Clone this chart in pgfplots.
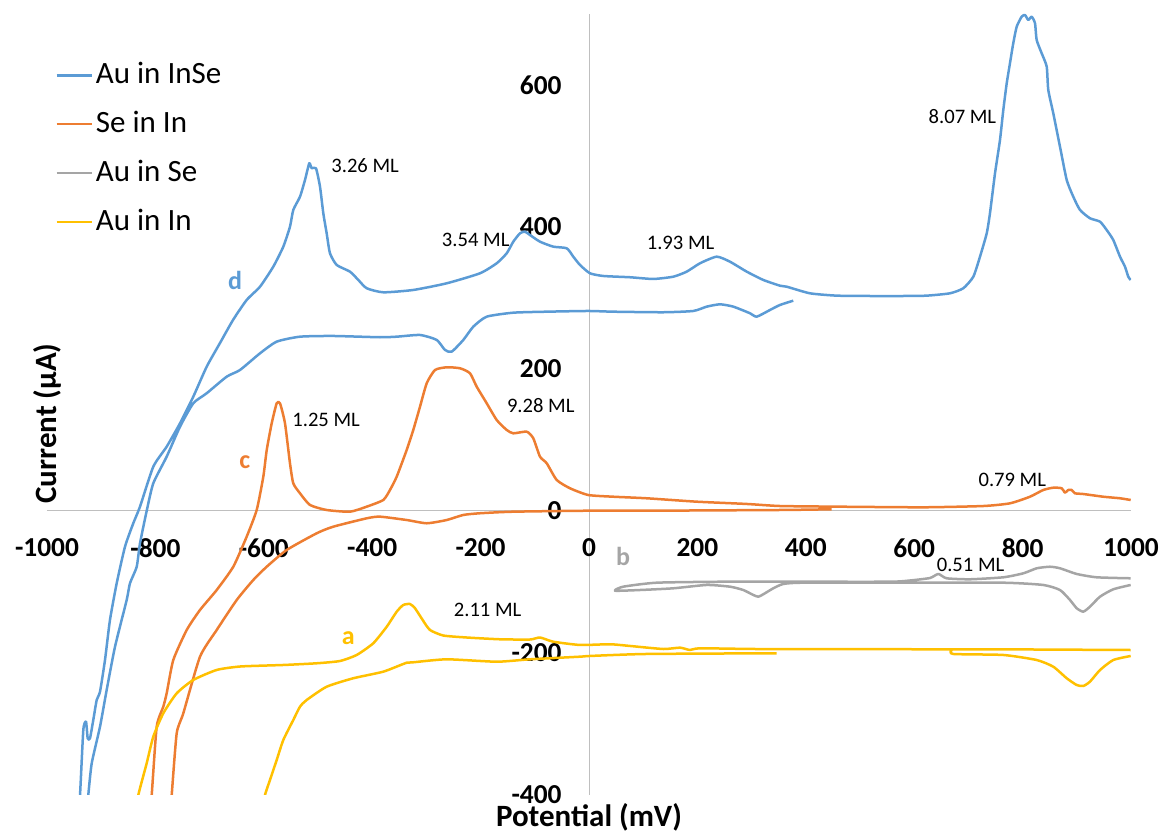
\documentclass[border=0pt]{standalone}
\usepackage{pgfplots}
\pgfplotsset{compat=1.18}
\usepackage{fontspec}
\setmainfont{Carlito}

\definecolor{cBlue}{HTML}{5B9BD5}
\definecolor{cOrange}{HTML}{ED7D31}
\definecolor{cGray}{HTML}{A5A5A5}
\definecolor{cGold}{HTML}{FFC000}
\definecolor{axGray}{HTML}{BFBFBF}

\newcommand{\mlfont}{\fontsize{10.3}{12}\selectfont}
\newcommand{\tagfont}{\fontsize{13}{15}\selectfont\bfseries}

\begin{document}
\begin{tikzpicture}
\begin{axis}[
  scale only axis,
  width=542pt, height=390.5pt,
  xmin=-1000, xmax=1000, ymin=-400, ymax=700,
  axis lines=middle,
  axis line style={draw=axGray, line width=0.5pt, -},
  hide obscured x ticks=false, hide obscured y ticks=false,
  major tick length=0pt,
  xtick={-1000,-800,-600,-400,-200,0,200,400,600,800,1000},
  xticklabels={-1000,-800,-600,-400,-200,0,200,400,600,800,1000},
  ytick={-400,-200,0,200,400,600},
  yticklabels={-400,-200,0,200,400,600},
  xticklabel style={font=\fontsize{13.7}{16}\selectfont\bfseries, anchor=north, inner sep=0pt, yshift=-13.5pt},
  yticklabel style={font=\fontsize{13.7}{16}\selectfont\bfseries, anchor=east, inner sep=0pt, xshift=-13.5pt},
  xlabel={Potential (mV)},
  ylabel={Current (µA)},
  x label style={at={(axis description cs:0.5,0)}, anchor=center, yshift=-11pt, font=\fontsize{15.5}{18}\selectfont\bfseries, inner sep=0pt},
  y label style={at={(axis description cs:0,0.5)}, anchor=center, rotate=90, xshift=-9.5pt, font=\fontsize{15.5}{18}\selectfont\bfseries, inner sep=0pt},
  unbounded coords=jump,
  every axis plot/.append style={line width=1.25pt, line join=round, smooth, tension=0.35},
  legend cell align=left,
  legend image code/.code={\draw[#1, sharp plot] (0pt,0pt) -- (17.5pt,0pt);},
  legend style={at={(axis description cs:0.0074,0.94)}, anchor=north west,
    draw=none, fill=none, inner sep=0pt, row sep=10.5pt, column sep=1.5pt,
    font=\fontsize{15.5}{18}\selectfont,
    nodes={inner sep=0pt, text height=11pt, text depth=3pt}},
]

% d: Au in InSe (cathodic sweep, then anodic sweep)
\addplot[cBlue] table {
x y
376.9 296.2
352.4 290.2
333.9 283.1
309.4 273.7
297.0 278.5
266.2 287.8
241.7 291.1
217.2 287.8
192.4 281.7
137.1 279.9
44.8 280.7
-1.3 281.7
-78.0 280.7
-139.7 279.3
-188.7 273.7
-213.5 259.6
-231.9 240.9
-253.3 224.4
-265.7 226.8
-281.0 240.9
-311.8 247.9
-354.8 245.5
-385.6 244.7
-472.3 246.5
-533.2 245.5
-576.2 238.5
-607.0 222.1
-643.9 198.6
-668.4 189.2
-705.4 165.8
-730.1 151.7
-754.6 118.7
-779.2 76.5
-803.9 39.0
-816.1 0
-828.4 -45.5
-834.5 -78.5
-846.9 -101.8
-853.0 -125.4
-874.5 -191.1
-889.9 -252.1
-902.2 -303.8
-917.5 -355.4
-923.8 -400
-926.2 -421
nan nan
-942.8 -414
-939.1 -400
-933.0 -308.5
-928.0 -296.8
-924.9 -320.2
-920.7 -320.2
-914.6 -294.4
-908.3 -266.2
-902.2 -254.5
-893.0 -209.9
-883.8 -153.5
-871.4 -101.8
-856.1 -50.3
-840.8 -17.3
-828.4 6.1
-803.9 62.4
-779.2 90.6
-754.6 123.5
-730.1 161.0
-705.4 203.2
-680.8 236.6
-656.8 269.0
-631.6 297.2
-607.0 315.9
-582.5 344.1
-564.0 372.3
-551.7 400.4
-545.6 424.0
-533.2 442.7
-524.0 466.2
-516.1 489.7
-511.7 482.7
-503.7 482.7
-496.3 456.8
-490.2 419.3
-484.0 391.1
-477.9 363.0
-465.5 346.5
-441.0 337.1
-425.6 325.4
-410.1 313.7
-379.5 308.0
-324.2 311.3
-262.5 320.7
-201.1 334.8
-170.3 348.9
-151.8 363.0
-139.7 379.3
-127.3 391.1
-118.1 393.4
-108.9 388.7
-90.4 379.3
-65.9 372.3
-41.1 370.0
-29.0 358.2
-16.6 346.5
1.8 334.8
26.4 331.0
75.6 329.2
118.6 326.8
155.5 330.0
180.3 337.1
204.8 348.9
235.6 358.2
260.1 351.1
291.0 337.1
321.6 325.4
352.4 317.3
364.8 315.9
407.7 306.6
457.0 303.3
518.4 302.8
579.9 302.8
623.1 303.3
666.0 306.6
690.6 313.7
709.1 330.0
721.4 358.2
733.8 391.1
739.8 419.3
749.1 475.6
758.3 522.6
764.4 564.8
770.7 602.4
776.7 630.6
782.8 658.8
789.1 682.1
798.3 696.2
804.4 698.6
810.5 691.6
816.8 696.2
822.9 686.9
826.0 663.4
835.2 644.7
844.5 625.8
847.4 593.0
856.6 560.2
869.0 513.1
881.4 466.2
893.5 442.7
905.9 424.0
924.3 412.3
942.8 407.5
955.1 395.8
967.3 381.7
979.7 358.2
988.9 344.1
995.0 330.0
999.4 325.4
};
\addlegendentry{Au in InSe}

% c: Se in In
\addplot[cOrange] table {
x y
-810.0 -421.1
-806.8 -400
-797.6 -303.8
-785.4 -275.6
-779.2 -256.8
-767.0 -209.9
-742.2 -167.6
-717.7 -139.4
-686.9 -111.3
-656.3 -78.5
-631.6 -36.2
-613.1 1.4
-600.9 48.3
-594.6 85.9
-585.4 123.5
-576.2 151.7
-570.1 151.7
-560.9 123.5
-551.7 67.2
-545.6 39.0
-533.2 24.9
-514.8 8.5
-484.0 1.4
-441.0 -1.0
-410.1 6.1
-379.5 15.5
-367.2 29.6
-354.8 48.3
-336.4 85.9
-324.2 114.1
-311.8 146.9
-299.4 179.9
-284.1 198.6
-262.5 202.4
-238.0 201.0
-219.6 194.0
-207.2 175.1
-188.7 151.7
-170.3 128.2
-151.8 114.1
-139.7 109.4
-114.9 111.7
-102.8 102.4
-90.4 76.5
-78.0 67.2
-59.6 43.7
-35.1 32.0
-1.3 22.5
44.8 20.1
106.5 17.9
198.7 13.1
291.0 9.9
352.4 7.0
457.0 6.1
616.8 5.2
727.5 7.0
776.7 10.8
813.6 20.1
838.2 29.6
856.6 32.8
872.1 32.0
878.2 25.8
884.3 29.6
890.6 29.6
896.7 24.9
912.0 23.9
948.9 20.1
979.7 17.9
999.4 15.5
nan nan
447.8 2.4
352.4 1.4
106.5 0.4
-1.3 0.4
-139.7 -1.0
-201.1 -3.2
-231.9 -5.6
-262.5 -12.7
-299.4 -17.3
-336.4 -12.7
-385.6 -8.0
-410.1 -10.3
-471.8 -22.1
-502.4 -31.4
-557.7 -54.9
-594.6 -78.5
-619.4 -97.2
-650.0 -125.4
-686.9 -167.6
-717.7 -205.2
-748.5 -284.9
-760.7 -313.1
-769.9 -400
-772.1 -421
};
\addlegendentry{Se in In}

% b: Au in Se
\addplot[cGray] table {
x y
999.4 -94.8
936.7 -93.4
899.8 -88.7
869.0 -80.7
850.5 -78.5
826.0 -80.7
801.3 -87.8
764.4 -93.4
703.0 -96.2
660.0 -94.8
644.5 -88.7
629.1 -94.4
592.2 -97.9
555.3 -99.6
370.8 -99.6
247.8 -99.6
124.9 -101.0
63.3 -106.6
48.0 -112.3
94.1 -111.3
155.5 -108.9
217.2 -104.2
260.1 -106.6
284.7 -111.3
303.1 -118.3
312.4 -120.7
321.6 -117.3
340.0 -108.9
358.5 -102.8
395.4 -101.0
579.9 -101.0
764.4 -101.0
838.2 -104.2
869.0 -111.3
887.5 -125.4
899.8 -137.0
912.0 -141.8
924.3 -134.8
942.8 -120.7
967.3 -110.3
999.4 -104.2
};
\addlegendentry{Au in Se}

% a: Au in In
\addplot[cGold] table {
x y
-834.0 -421.1
-831.5 -400
-816.1 -355.4
-803.9 -317.9
-785.4 -284.9
-760.7 -256.8
-730.1 -238.0
-686.9 -223.9
-642.9 -219.0
-564.0 -216.9
-502.4 -214.5
-459.4 -211.3
-428.6 -202.8
-398.0 -186.3
-373.2 -163.0
-354.8 -141.8
-342.6 -132.4
-330.3 -131.0
-321.0 -137.0
-305.7 -154.9
-293.4 -167.6
-268.8 -175.4
-225.6 -178.2
-164.2 -180.7
-108.9 -181.0
-90.4 -178.2
-65.9 -184.1
-16.6 -188.7
38.7 -187.7
75.6 -190.1
137.1 -194.4
167.9 -192.5
186.3 -195.8
204.8 -193.4
309.4 -194.4
493.9 -194.4
616.8 -194.8
739.8 -194.8
999.4 -195.8
nan nan
669.2 -195.8
672.1 -201.4
764.4 -202.8
826.0 -209.9
856.6 -219.3
881.4 -235.6
899.8 -245.1
912.0 -246.5
924.3 -240.4
942.8 -224.0
967.3 -209.9
999.4 -204.2
nan nan
346.3 -200.4
106.5 -201.4
1.8 -204.2
-16.6 -205.2
-108.9 -208.9
-170.3 -212.3
-262.5 -208.9
-324.2 -213.1
-336.4 -213.7
-379.5 -226.3
-434.9 -235.6
-484.0 -247.5
-520.9 -266.2
-533.2 -275.6
-545.6 -294.4
-564.0 -322.5
-576.2 -350.7
-588.6 -378.9
-597.8 -400
-601.5 -421.1
};
\addlegendentry{Au in In}

% curve tags
\node[font=\tagfont, text=cBlue] at (axis cs:-653,324) {d};
\node[font=\tagfont, text=cOrange] at (axis cs:-635,69) {c};
\node[font=\tagfont, text=cGray] at (axis cs:63,-64) {b};
\node[font=\tagfont, text=cGold] at (axis cs:-444,-179) {a};

% coverage annotations
\node[font=\mlfont, anchor=west, inner sep=0pt] at (axis cs:-476,486) {3.26 ML};
\node[font=\mlfont, anchor=west, inner sep=0pt] at (axis cs:-272,382) {3.54 ML};
\node[font=\mlfont, anchor=west, inner sep=0pt] at (axis cs:106,377) {1.93 ML};
\node[font=\mlfont, anchor=west, inner sep=0pt] at (axis cs:626,555) {8.07 ML};
\node[font=\mlfont, anchor=west, inner sep=0pt] at (axis cs:-548,128) {1.25 ML};
\node[font=\mlfont, anchor=west, inner sep=0pt] at (axis cs:-152,149) {9.28 ML};
\node[font=\mlfont, anchor=west, inner sep=0pt] at (axis cs:718,44) {0.79 ML};
\node[font=\mlfont, anchor=west, inner sep=0pt] at (axis cs:641,-76) {0.51 ML};
\node[font=\mlfont, anchor=west, inner sep=0pt] at (axis cs:-250,-140) {2.11 ML};
\end{axis}
\pgfresetboundingbox
\path[use as bounding box] (-23.5pt,-19pt) rectangle (558.5pt,397.5pt);
\end{tikzpicture}
\end{document}
